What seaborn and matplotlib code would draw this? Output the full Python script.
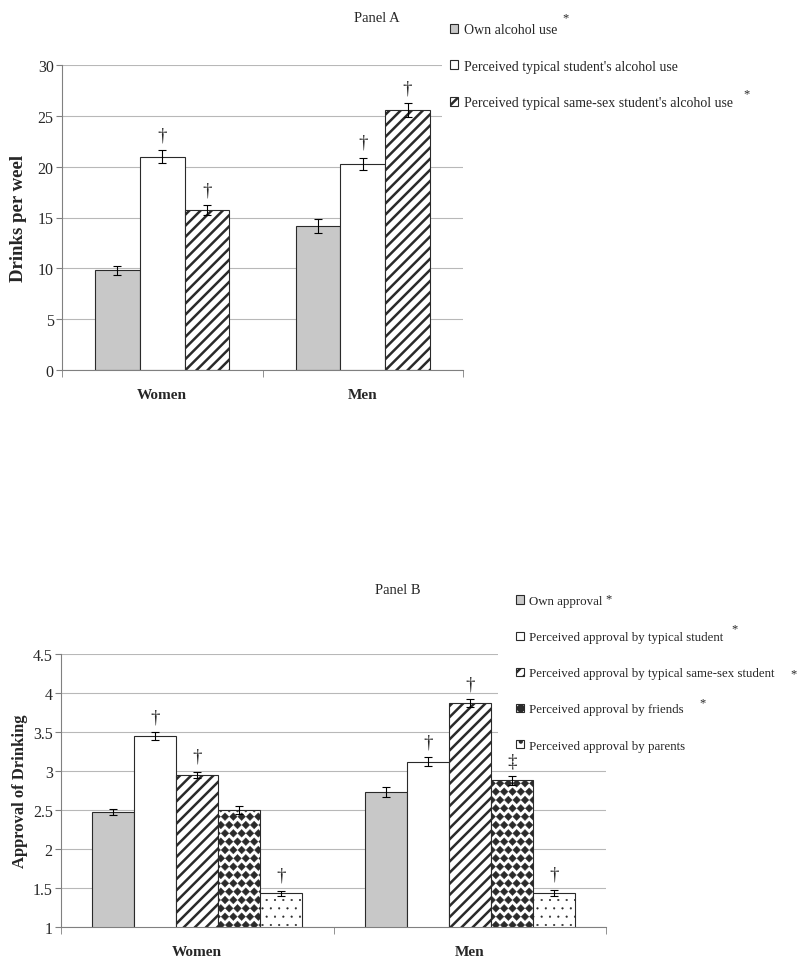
import matplotlib
matplotlib.use("Agg")
import numpy as np
import pandas as pd
import matplotlib.pyplot as plt
import matplotlib.hatch as mhatch
import matplotlib.transforms as mtransforms
from matplotlib.path import Path
from matplotlib.ticker import FuncFormatter
import seaborn as sns

# ---- data ----
groups = ["Women", "Men"]

a_labels = ["Own alcohol use",
            "Perceived typical student's alcohol use",
            "Perceived typical same-sex student's alcohol use"]
a_women = [9.8, 21.0, 15.7]
a_men = [14.15, 20.3, 25.55]
a_women_err = [0.45, 0.6, 0.5]
a_men_err = [0.7, 0.6, 0.7]
a_women_sig = ["", "\u2020", "\u2020"]
a_men_sig = ["", "\u2020", "\u2020"]
a_star = [True, False, True]
a_ticks = [0, 5, 10, 15, 20, 25, 30]

b_labels = ["Own approval",
            "Perceived approval by typical student",
            "Perceived approval by typical same-sex student",
            "Perceived approval by friends",
            "Perceived approval by parents"]
b_women = [2.47, 3.45, 2.95, 2.50, 1.43]
b_men = [2.73, 3.12, 3.87, 2.88, 1.44]
b_women_err = [0.04, 0.05, 0.04, 0.05, 0.035]
b_men_err = [0.06, 0.055, 0.05, 0.055, 0.04]
b_women_sig = ["", "\u2020", "\u2020", "", "\u2020"]
b_men_sig = ["", "\u2020", "\u2020", "\u2021", "\u2020"]
b_star = [True, True, True, True, False]
b_ticks = [1, 1.5, 2, 2.5, 3, 3.5, 4, 4.5]


# filled diamond hatch (takes the place of the '*' star hatch)
class Diamonds(mhatch.Shapes):
    size = 0.46
    filled = True

    def __init__(self, hatch, density):
        self.num_rows = hatch.count('*') * density
        poly = Path.unit_regular_polygon(4)
        self.shape_vertices = poly.vertices
        self.shape_codes = poly.codes
        super().__init__(hatch, density)


mhatch._hatch_types = [Diamonds if t is mhatch.Stars else t
                       for t in mhatch._hatch_types]

sns.set_style("white")
plt.rcParams["font.family"] = ["Liberation Serif", "DejaVu Serif"]
plt.rcParams["hatch.linewidth"] = 1.8

W, H = 800, 970
fig = plt.figure(figsize=(W / 100, H / 100), dpi=100)

# face, hatch, hatch linewidth
styles = [("#c8c8c8", "", 0.5),
          ("white", "", 0.5),
          ("white", "///", 1.8),
          ("white", "**", 0.3),
          ("white", "..", 0.3)]


def panel(rect, labels, women, men, werr, merr, wsig, msig, ticks, ylim,
          ylabel, ylabel_x, ylabel_size, width):
    ax = fig.add_axes(rect)
    df = pd.DataFrame({
        "group": np.repeat(groups, len(labels)),
        "measure": labels * 2,
        "value": women + men,
    })
    n = len(labels)
    sns.barplot(data=df, x="group", y="value", hue="measure", order=groups,
                hue_order=labels, palette=[s[0] for s in styles[:n]],
                saturation=1, width=width, gap=0, errorbar=None,
                edgecolor="#2a2a2a", linewidth=0.8, legend=False, ax=ax)
    bars = list(ax.containers)
    for i, cont in enumerate(bars):
        face, hatch, hlw = styles[i]
        for p in cont.patches:
            p.set_hatch(hatch)
            if hasattr(p, "set_hatch_linewidth"):
                p.set_hatch_linewidth(hlw)
            if hasattr(p, "set_hatchcolor"):
                p.set_hatchcolor("black")
        xs = [p.get_x() + p.get_width() / 2 for p in cont.patches]
        vals = [women[i], men[i]]
        errs = [werr[i], merr[i]]
        ax.errorbar(xs, vals, yerr=errs, fmt="none", ecolor="black",
                    elinewidth=0.8, capsize=3, capthick=0.8, zorder=5)
        for x, v, e, s in zip(xs, vals, errs, [wsig[i], msig[i]]):
            if s:
                ax.annotate(s, (x, v + e), xytext=(0, 5),
                            textcoords="offset points", ha="center",
                            va="bottom", fontsize=13.5, zorder=6)

    ax.set_ylim(*ylim)
    ax.set_xlim(-0.5, 1.5)
    ax.set_yticks(ticks)
    ax.yaxis.set_major_formatter(FuncFormatter(lambda v, _: f"{v:g}"))
    ax.yaxis.grid(True, color="#b8b8b8", lw=0.8)
    ax.set_axisbelow(True)
    for side in ["top", "right"]:
        ax.spines[side].set_visible(False)
    for side in ["left", "bottom"]:
        ax.spines[side].set_color("#808080")
        ax.spines[side].set_linewidth(0.8)
    ax.tick_params(axis="y", length=4, color="#808080", labelsize=11.5,
                   pad=2, left=True)
    ax.set_xticks([0, 1])
    ax.set_xticklabels(groups, fontweight="bold", fontsize=11)
    ax.set_xticks([-0.5, 0.5, 1.5], minor=True)
    ax.tick_params(axis="x", which="major", length=0, pad=13)
    ax.tick_params(axis="x", which="minor", length=5, color="#808080",
                   bottom=True)
    ax.set_xlabel("")
    ax.set_ylabel(ylabel, fontweight="bold", fontsize=ylabel_size)
    ax.yaxis.set_label_coords(
        ylabel_x, 0.5,
        transform=mtransforms.blended_transform_factory(fig.transFigure,
                                                        ax.transAxes))
    return ax, bars


ax_a, bars_a = panel([62 / W, 1 - 371 / H, 401 / W, 305 / H], a_labels,
                     a_women, a_men, a_women_err, a_men_err, a_women_sig,
                     a_men_sig, a_ticks, (0, 30), "Drinks per weel", 27 / W,
                     13.5, 0.67)
ax_b, bars_b = panel([61 / W, 1 - 928 / H, 545 / W, 273 / H], b_labels,
                     b_women, b_men, b_women_err, b_men_err, b_women_sig,
                     b_men_sig, b_ticks, (1, 4.5), "Approval of Drinking",
                     28 / W, 12, 0.77)

fig.text(377 / W, 1 - 18 / H, "Panel A", ha="center", va="center",
         fontsize=10.5)
fig.text(398 / W, 1 - 591 / H, "Panel B", ha="center", va="center",
         fontsize=10.5)


def legend(ax, bars, labels, x, y, size, spacing, pad):
    # white legend box that hides the gridlines behind it
    pad_px = pad * size * 100 / 72
    leg = ax.legend([c.patches[0] for c in bars], labels, loc="upper left",
                    bbox_to_anchor=((x - pad_px) / W, 1 - (y - pad_px) / H),
                    bbox_transform=fig.transFigure, frameon=True,
                    facecolor="white", edgecolor="none", framealpha=1,
                    fancybox=False, fontsize=size, handlelength=0.6,
                    handleheight=0.6, handletextpad=0.4,
                    labelspacing=spacing, borderpad=pad, borderaxespad=0)
    leg.set_zorder(2.5)
    return leg


leg_a = legend(ax_a, bars_a, a_labels, 450, 24, 10, 1.7, 0.6)
leg_b = legend(ax_b, bars_b, b_labels, 516, 596, 9.3, 1.87, 1.4)

# asterisks next to legend entries: (px right of text, px above text centre)
fig.canvas.draw()
renderer = fig.canvas.get_renderer()
star_offsets = [[(5, 15), None, (11, 12)],
                [(3, 6), (8, 12), (16, 3), (16, 10), None]]
for leg, flags, offs in [(leg_a, a_star, star_offsets[0]),
                         (leg_b, b_star, star_offsets[1])]:
    for txt, flag, off in zip(leg.get_texts(), flags, offs):
        if not flag:
            continue
        bb = txt.get_window_extent(renderer)
        fig.text((bb.x1 + off[0]) / W,
                 (bb.y0 + bb.height / 2 + off[1] - 6) / H,
                 "*", ha="left", va="baseline", fontsize=9)

fig.savefig("out.png", dpi=100)
